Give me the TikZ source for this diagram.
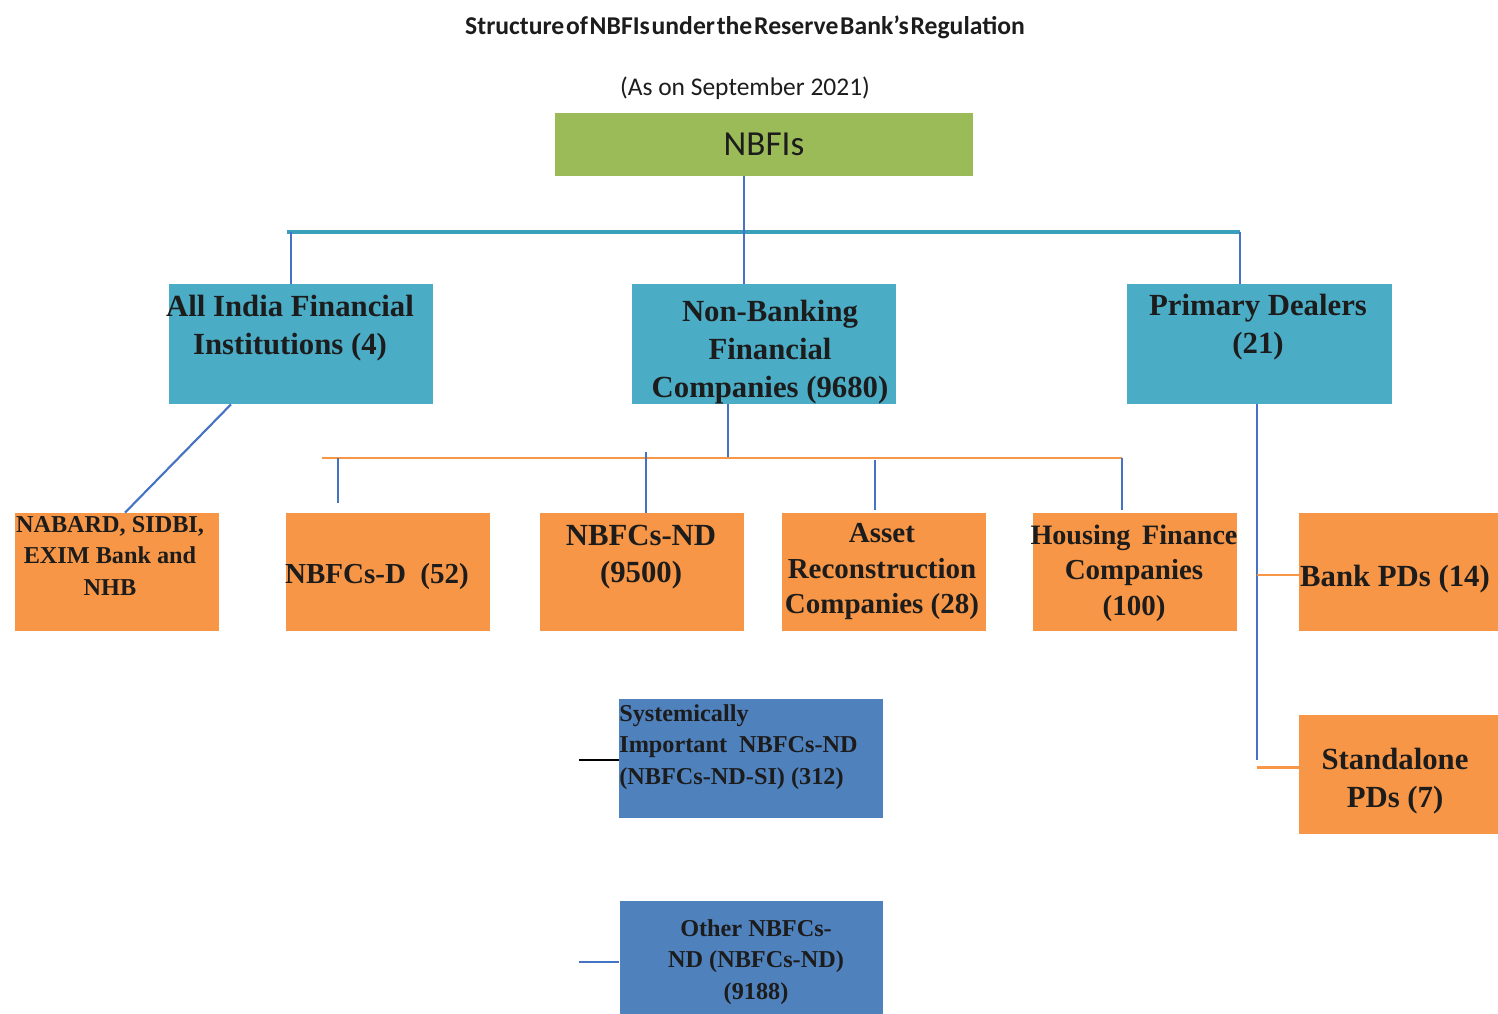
\documentclass[tikz,border=0pt]{standalone}
\usepackage{fontspec}
\setmainfont{Liberation Serif}
\newfontfamily\carl{Carlito}
\usetikzlibrary{positioning}
\definecolor{nbgreen}{HTML}{9BBB59}
\definecolor{nbteal}{HTML}{4BACC6}
\definecolor{nborange}{HTML}{F79646}
\definecolor{nbblue}{HTML}{4F81BD}
\definecolor{lnblue}{HTML}{4472C4}
\definecolor{lnteal}{HTML}{3A9FBA}
\definecolor{txt}{HTML}{1C1C1C}

\begin{document}
\begin{tikzpicture}[x=0.02cm,y=-0.02cm,
    box/.style={inner sep=0pt,minimum width=4.08cm,minimum height=2.36cm},
    tealbox/.style={box,fill=nbteal,minimum width=5.28cm,minimum height=2.4cm},
    orbox/.style={box,fill=nborange},
    bluebox/.style={box,fill=nbblue,minimum width=5.28cm,minimum height=2.38cm},
    big/.style={font=\fontsize{17.5}{21.5}\selectfont\bfseries,text=txt,align=center,inner sep=0pt},
    mid/.style={font=\fontsize{16.5}{20.2}\selectfont\bfseries,text=txt,align=center,inner sep=0pt},
    small/.style={font=\fontsize{13.8}{17.8}\selectfont\bfseries,text=txt,align=center,inner sep=0pt},
    bl/.style={draw=lnblue,line width=1.2pt},
    ol/.style={draw=nborange,line width=1.7pt},
    tl/.style={draw=lnteal,line width=1.9pt}]
  \useasboundingbox (0,0) rectangle (1498,1014);

  % headings
  \node[font=\carl\fontsize{14.6}{16}\selectfont\bfseries,text=txt] (title) at (745,27)
    {\spaceskip=0.07em Structure of NBFIs under the Reserve Bank’s Regulation};
  \node[font=\carl\fontsize{14.5}{16}\selectfont,text=txt] (date) at (745,88)
    {(As on September 2021)};

  % top level
  \node[box,fill=nbgreen,minimum width=8.36cm,minimum height=1.26cm,
        font=\carl\fontsize{20}{24}\selectfont,text=txt] (nbfi) at (764,144.5) {NBFIs};

  \node[tealbox] (aifi) at (301,344) {};
  \node[big] (aifi-t) at (290,328) {All India Financial\\Institutions (4)};
  \node[tealbox] (nbfc) at (764,344) {};
  \node[big] (nbfc-t) at (770,352) {Non-Banking\\Financial\\Companies (9680)};
  \node[tealbox,minimum width=5.3cm] (pd) at (1259.5,344) {};
  \node[big] (pd-t) at (1258,327) {Primary Dealers\\(21)};

  % second level
  \node[orbox] (nab) at (117,572) {};
  \node[small] (nab-t) at (110,556) {NABARD, SIDBI,\\EXIM Bank and\\NHB};
  \node[orbox] (nbd) at (388,572) {};
  \node[mid] (nbd-t) at (377,577) {NBFCs-D\ \ (52)};
  \node[orbox] (nd) at (642,572) {};
  \node[big] (nd-t) at (641,557) {NBFCs-ND\\(9500)};
  \node[orbox] (arc) at (884,572) {};
  \node[mid] (arc-t) at (882,572) {Asset\\Reconstruction\\Companies (28)};
  \node[orbox] (hfc) at (1135,572) {};
  \node[mid] (hfc-t) at (1134,573) {\fontsize{16}{20.2}\selectfont Housing\ \,Finance\\Companies\\(100)};
  \node[orbox] (bpd) at (1401,572) {};
  \node[big] (bpd-t) at (1395,579) {Bank PDs (14)};
  \node[orbox,minimum height=2.38cm] (sa) at (1401,774.5) {};
  \node[big] (sa-t) at (1395,781) {Standalone\\PDs (7)};

  % NBFCs-ND split
  \node[bluebox] (si) at (751,758.5) {};
  \node[small,align=left,anchor=west] (si-t) at (619,747)
    {Systemically\\Important\ \ NBFCs-ND\\(NBFCs-ND-SI) (312)};
  \node[bluebox] (ot) at (751.5,960) {};
  \node[small] (ot-t) at (756,962) {Other NBFCs-\\ND (NBFCs-ND)\\(9188)};

  % connectors, top
  \coordinate (barL) at (287,232);
  \coordinate (c1) at (291,232);
  \coordinate (c2) at (744,232);
  \coordinate (c3) at (1240,232);
  \draw[tl] (barL) -- (c3);
  \draw[bl] (c2 |- nbfi.south) -- (c2 |- nbfc.north);
  \draw[bl] (c1) -- (c1 |- aifi.north);
  \draw[bl] (c3) -- (c3 |- pd.north);

  % AIFI branch
  \draw[bl] ([xshift=-1.4cm]aifi.south) -- ([xshift=0.16cm]nab.north);

  % NBFC branch
  \coordinate (b0) at (728,458);
  \coordinate (oL) at (322,458);
  \coordinate (oR) at (1122,458);
  \draw[bl] (b0 |- nbfc.south) -- (b0);
  \draw[ol] (oL) -- (oR);
  \coordinate (d1) at (338,458); \coordinate (e1) at (338,503);
  \coordinate (d2) at (646,452); \coordinate (e2) at (646,513);
  \coordinate (d3) at (875,460); \coordinate (e3) at (875,510);
  \coordinate (d4) at (1122,458); \coordinate (e4) at (1122,510);
  \draw[bl] (d1) -- (e1);
  \draw[bl] (d2) -- (e2);
  \draw[bl] (d3) -- (e3);
  \draw[bl] (d4) -- (e4);

  % PD branch
  \coordinate (p0) at (1257,404);
  \coordinate (p1) at (1257,760);
  \coordinate (q1) at (1257,575);
  \coordinate (q2) at (1257,767);
  \draw[bl] (p0) -- (p1);
  \draw[ol] (q1) -- (q1 -| bpd.west);
  \draw[ol] (q2) -- (q2 -| sa.west);

  % NBFCs-ND children
  \coordinate (s1) at (579,760);
  \coordinate (s2) at (579,962);
  \draw[black,line width=1.5pt] (s1) -- (s1 -| si.west);
  \draw[bl,line width=1.5pt] (s2) -- (s2 -| ot.west);
\end{tikzpicture}
\end{document}
